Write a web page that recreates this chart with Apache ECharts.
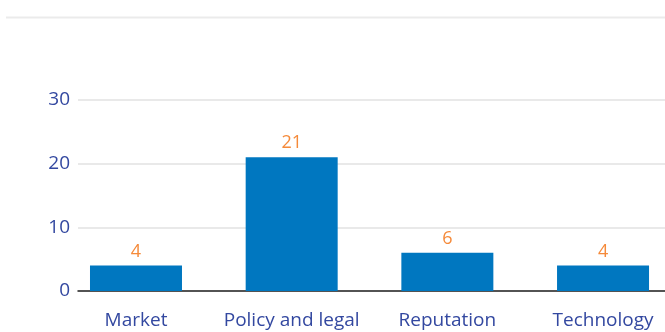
<!DOCTYPE html>
<html><head><meta charset="utf-8">
<script src="https://cdn.jsdelivr.net/npm/echarts@6/dist/echarts.min.js"></script>
<style>html,body{margin:0;padding:0;background:#fff}#c{width:665px;height:332px}</style>
</head><body><div id="c"></div>
<script>
const categories = ["Market", "Policy and legal", "Reputation", "Technology"];
const values = [4, 21, 6, 4];
const yTicks = [0, 10, 20, 30];

const chart = echarts.init(document.getElementById('c'), null, {renderer: 'canvas'});
const font = '"Open Sans", "Noto Sans", sans-serif';
chart.setOption({
  animation: false,
  backgroundColor: '#fff',
  graphic: [{
    type: 'line', shape: {x1: 6, y1: 17.5, x2: 665, y2: 17.5},
    style: {stroke: '#ebebeb', lineWidth: 2}
  }],
  grid: {left: 78, right: 0, top: 100, bottom: 41, containLabel: false, outerBoundsMode: 'none'},
  xAxis: {
    type: 'value', min: -0.3725, max: 3.398,
    splitLine: {show: false},
    axisTick: {show: false},
    axisLine: {show: true, onZero: false, lineStyle: {color: '#222', width: 1.5}},
    axisLabel: {
      customValues: categories.map((c, i) => i),
      formatter: v => categories[Math.round(v)] || '',
      color: '#3348a0', fontSize: 19, fontFamily: font, margin: 20
    }
  },
  yAxis: {
    type: 'value', min: yTicks[0], max: yTicks[yTicks.length - 1], interval: 10,
    axisLine: {show: false}, axisTick: {show: false},
    splitLine: {show: true, lineStyle: {color: '#e9e9e9', width: 2}},
    axisLabel: {color: '#3348a0', fontSize: 19, fontFamily: font, margin: 8}
  },
  series: [{
    type: 'bar',
    data: values.map((v, i) => [i, v]),
    barWidth: 92,
    itemStyle: {color: '#0077c0'},
    label: {show: true, position: 'top', distance: 5, color: '#f58a3a', fontSize: 18, fontFamily: font}
  }]
});
</script></body></html>
